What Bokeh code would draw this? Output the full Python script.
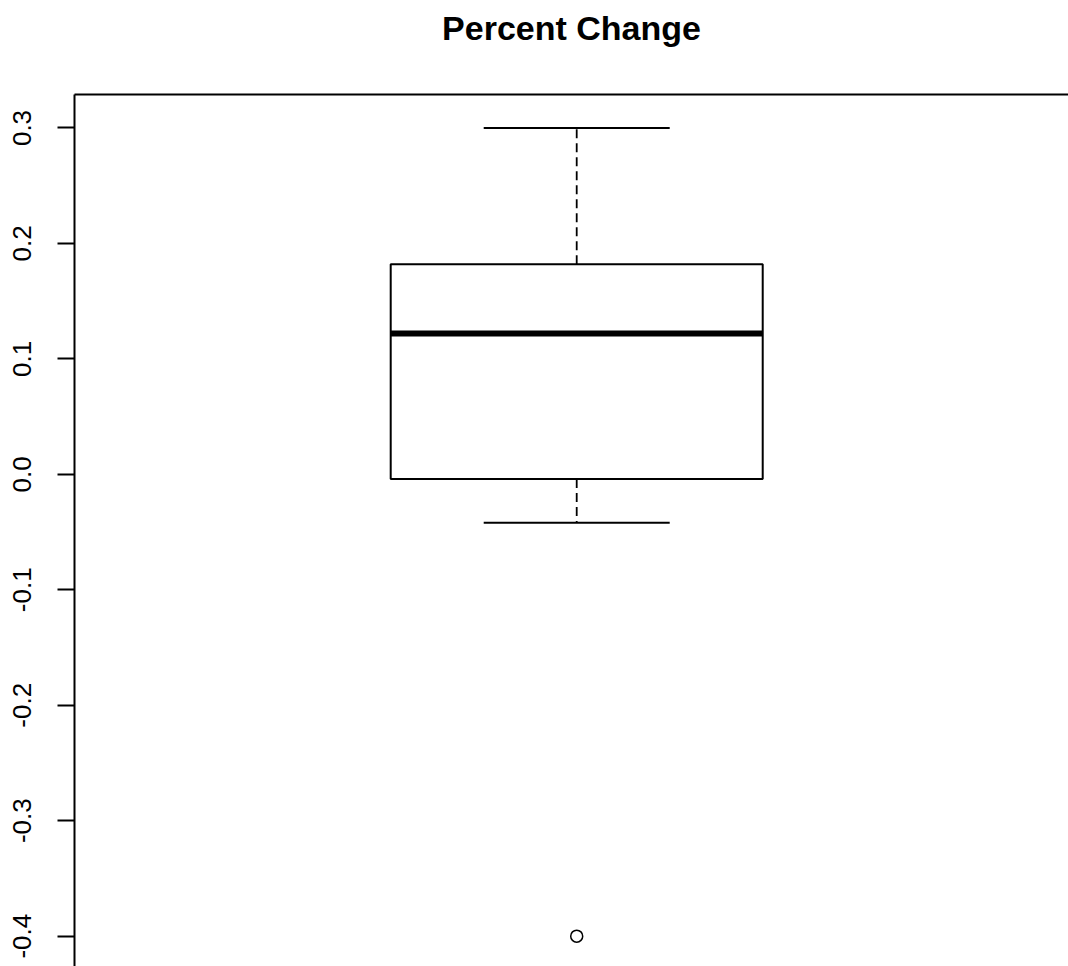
from bokeh.plotting import figure
from bokeh.models import FixedTicker, LinearAxis, Range1d, ColumnDataSource
from bokeh.embed import file_html
from bokeh.resources import INLINE

# ---- data ----
groups = [1.0]                 # single box position
lower_whisker = [-0.042]
q1 = [-0.004]
median = [0.122]
q3 = [0.182]
upper_whisker = [0.300]
outliers_x = [1.0]
outliers_y = [-0.400]

y_ticks = [-0.4, -0.3, -0.2, -0.1, 0.0, 0.1, 0.2, 0.3]
y_tick_labels = ["-0.4", "-0.3", "-0.2", "-0.1", "0.0", "0.1", "0.2", "0.3"]

title_text = "Percent Change"

box_half = 0.2
cap_half = 0.1

FONT = "Liberation Sans"

p = figure(width=1068, height=966, output_backend="svg", toolbar_location=None,
           x_range=Range1d(0.46, 1.5288), y_range=Range1d(-0.4263, 0.329),
           x_axis_location=None, title_location=None,
           min_border_left=74, min_border_right=0, min_border_top=94, min_border_bottom=0)
p.outline_line_color = None
p.grid.visible = False
p.background_fill_color = "white"
p.border_fill_color = "white"

src = ColumnDataSource(dict(
    x=groups,
    left=[g - box_half for g in groups],
    right=[g + box_half for g in groups],
    cl=[g - cap_half for g in groups],
    cr=[g + cap_half for g in groups],
    lw=lower_whisker, q1=q1, med=median, q3=q3, uw=upper_whisker,
))

# whiskers (dashed)
p.segment(x0="x", y0="q3", x1="x", y1="uw", source=src, line_color="black",
          line_width=1.8, line_dash="9 5")
p.segment(x0="x", y0="q1", x1="x", y1="lw", source=src, line_color="black",
          line_width=1.8, line_dash="9 5")
# caps
p.segment(x0="cl", y0="uw", x1="cr", y1="uw", source=src, line_color="black", line_width=2)
p.segment(x0="cl", y0="lw", x1="cr", y1="lw", source=src, line_color="black", line_width=2)
# box
p.quad(left="left", right="right", bottom="q1", top="q3", source=src,
       fill_color="white", line_color="black", line_width=2)
# median
p.segment(x0="left", y0="med", x1="right", y1="med", source=src, line_color="black", line_width=6)
# outliers
p.scatter(outliers_x, outliers_y, marker="circle", size=12, fill_color=None,
          line_color="black", line_width=1.5)

# y axis styling
ya = p.yaxis[0]
ya.ticker = FixedTicker(ticks=y_ticks)
ya.major_label_overrides = {t: s for t, s in zip(y_ticks, y_tick_labels)}
ya.major_label_orientation = "parallel"
ya.major_label_text_font = FONT
ya.major_label_text_font_size = "26px"
ya.major_label_text_color = "black"
ya.major_label_standoff = 26
ya.major_tick_out = 17
ya.major_tick_in = 0
ya.major_tick_line_width = 2
ya.major_tick_line_color = "black"
ya.minor_tick_line_color = None
ya.axis_line_width = 2
ya.axis_line_color = "black"

# top border line (axis with no ticks) carrying the title as its label
top = LinearAxis(ticker=FixedTicker(ticks=[]), major_tick_line_color=None,
                 minor_tick_line_color=None, axis_line_width=2,
                 axis_line_color="black",
                 axis_label=title_text, axis_label_text_font=FONT,
                 axis_label_text_font_size="34px", axis_label_text_font_style="bold",
                 axis_label_text_color="black", axis_label_standoff=48)
p.add_layout(top, "above")

open("out.html", "w").write(file_html(p, INLINE))
